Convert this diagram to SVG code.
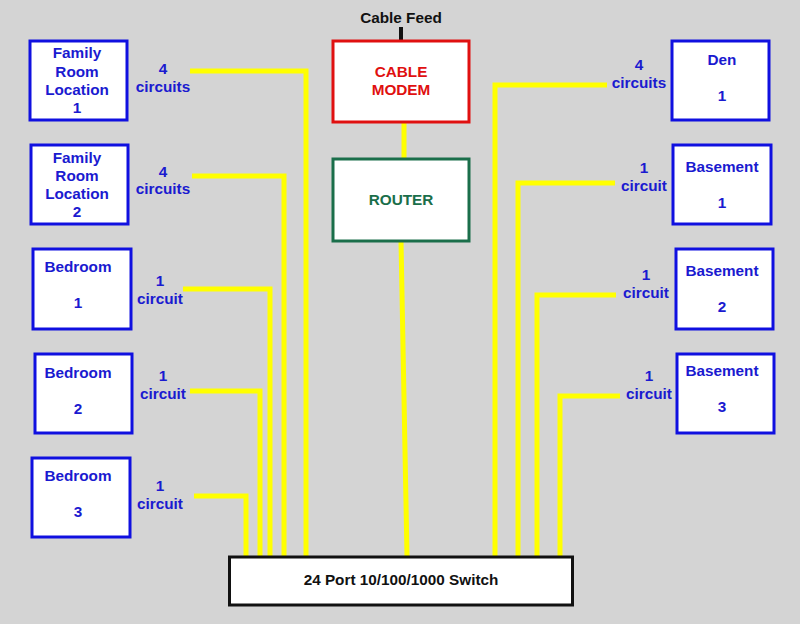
<svg xmlns="http://www.w3.org/2000/svg" width="800" height="624" viewBox="0 0 800 624">
<style>
.bg{fill:#d4d4d4}
.room{fill:#fff;stroke:#1010e0;stroke-width:3}
.t{font-family:"Liberation Sans",Arial,sans-serif;font-weight:bold;font-size:15.3px;text-anchor:middle}
.b{fill:#1a1ad0}
.wire{fill:none;stroke:#ffff00;stroke-width:5;stroke-linejoin:miter}
</style>
<rect class="bg" x="0" y="0" width="800" height="624"/>
<g id="connectors">
<line x1="401" y1="27" x2="401" y2="41" stroke="#111" stroke-width="4"/>
<line class="wire" x1="404" y1="122" x2="404" y2="159"/>
<line class="wire" x1="401" y1="241" x2="407" y2="556"/>
<polyline class="wire" points="190,71 306,71 306,556"/>
<polyline class="wire" points="192,176 284,176 284,556"/>
<polyline class="wire" points="183,289 270,289 270,556"/>
<polyline class="wire" points="190,391 260,391 260,556"/>
<polyline class="wire" points="194,496 246,496 246,556"/>
<polyline class="wire" points="607,85 495,85 495,556"/>
<polyline class="wire" points="615,183 518,183 518,556"/>
<polyline class="wire" points="616,295 537,295 537,556"/>
<polyline class="wire" points="620,396 560,396 560,556"/>
</g>
<g id="cable-feed"><text class="t" x="401" y="23" fill="#111">Cable Feed</text></g>
<g id="modem">
<rect x="333" y="41" width="136" height="81" fill="#fff" stroke="#e01010" stroke-width="3"/>
<text class="t" x="401" y="77" fill="#e01010">CABLE</text>
<text class="t" x="401" y="95" fill="#e01010">MODEM</text>
</g>
<g id="router">
<rect x="333" y="159" width="136" height="82" fill="#fff" stroke="#1a6e4a" stroke-width="3"/>
<text class="t" x="401" y="205" fill="#1a6e4a">ROUTER</text>
</g>
<g id="switch">
<rect x="229.5" y="557" width="343" height="48" fill="#fff" stroke="#111" stroke-width="3"/>
<text class="t" x="401" y="585" fill="#111">24 Port 10/100/1000 Switch</text>
</g>
<g id="family1">
<rect class="room" x="30" y="41" width="97" height="79"/>
<text class="t b" x="77" y="58">Family</text>
<text class="t b" x="77" y="77">Room</text>
<text class="t b" x="77" y="95">Location</text>
<text class="t b" x="77" y="113">1</text>
<text class="t b" x="163" y="74">4</text>
<text class="t b" x="163" y="92">circuits</text>
</g>
<g id="family2">
<rect class="room" x="31" y="145" width="97" height="79"/>
<text class="t b" x="77" y="163">Family</text>
<text class="t b" x="77" y="181">Room</text>
<text class="t b" x="77" y="199">Location</text>
<text class="t b" x="77" y="217">2</text>
<text class="t b" x="163" y="177">4</text>
<text class="t b" x="163" y="194">circuits</text>
</g>
<g id="bedroom1">
<rect class="room" x="33" y="249" width="98" height="80"/>
<text class="t b" x="78" y="272">Bedroom</text>
<text class="t b" x="78" y="308">1</text>
<text class="t b" x="160" y="286">1</text>
<text class="t b" x="160" y="304">circuit</text>
</g>
<g id="bedroom2">
<rect class="room" x="35" y="354" width="97" height="79"/>
<text class="t b" x="78" y="378">Bedroom</text>
<text class="t b" x="78" y="414">2</text>
<text class="t b" x="163" y="381">1</text>
<text class="t b" x="163" y="399">circuit</text>
</g>
<g id="bedroom3">
<rect class="room" x="32" y="458" width="98" height="79"/>
<text class="t b" x="78" y="481">Bedroom</text>
<text class="t b" x="78" y="517">3</text>
<text class="t b" x="160" y="491">1</text>
<text class="t b" x="160" y="509">circuit</text>
</g>
<g id="den1">
<rect class="room" x="672" y="41" width="97" height="79"/>
<text class="t b" x="722" y="65">Den</text>
<text class="t b" x="722" y="101">1</text>
<text class="t b" x="639" y="70">4</text>
<text class="t b" x="639" y="88">circuits</text>
</g>
<g id="basement1">
<rect class="room" x="673" y="145" width="98" height="79"/>
<text class="t b" x="722" y="172">Basement</text>
<text class="t b" x="722" y="208">1</text>
<text class="t b" x="644" y="173">1</text>
<text class="t b" x="644" y="191">circuit</text>
</g>
<g id="basement2">
<rect class="room" x="676" y="249" width="97" height="80"/>
<text class="t b" x="722" y="276">Basement</text>
<text class="t b" x="722" y="312">2</text>
<text class="t b" x="646" y="280">1</text>
<text class="t b" x="646" y="298">circuit</text>
</g>
<g id="basement3">
<rect class="room" x="677" y="354" width="97" height="79"/>
<text class="t b" x="722" y="376">Basement</text>
<text class="t b" x="722" y="412">3</text>
<text class="t b" x="649" y="381">1</text>
<text class="t b" x="649" y="399">circuit</text>
</g>
</svg>
